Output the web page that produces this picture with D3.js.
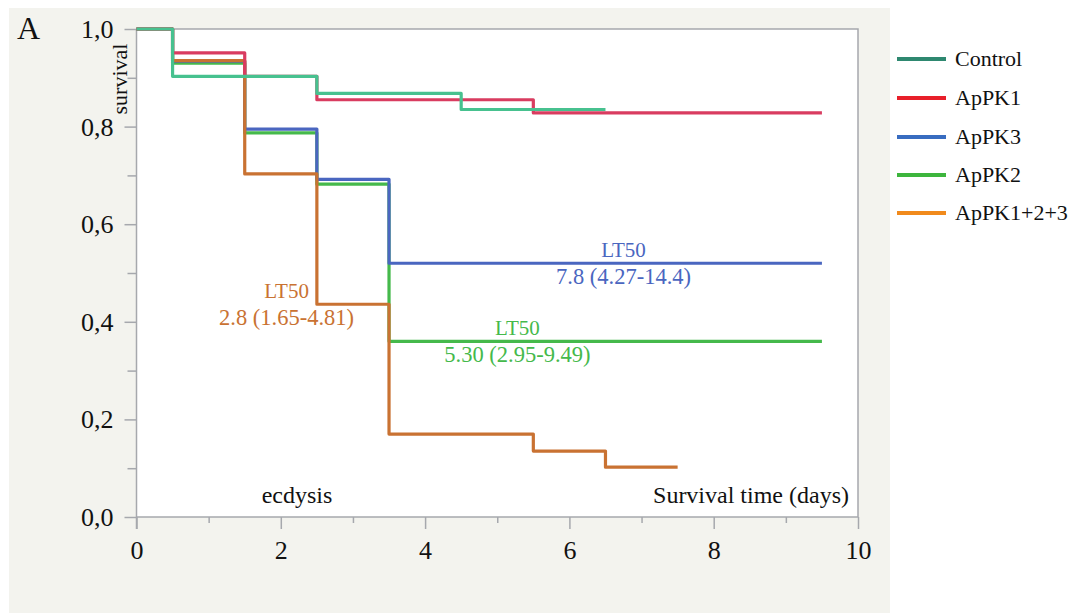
<!DOCTYPE html>
<html><head><meta charset="utf-8">
<script src="https://cdn.jsdelivr.net/npm/d3@7"></script>
<style>body{margin:0;background:#fff}svg{display:block}text{font-family:"Liberation Serif","Times New Roman",serif}</style>
</head><body><svg id="c" width="1077" height="613"></svg>
<script>
const seriesNames = ["Control","ApPK1","ApPK3","ApPK2","ApPK1+2+3"];
const lineColors = {"Control":"#47c18f","ApPK1":"#d93c60","ApPK3":"#4a66c0","ApPK2":"#45b94b","ApPK1+2+3":"#c97232"};
const legendColors = {"Control":"#2e8870","ApPK1":"#e81f2a","ApPK3":"#386cc0","ApPK2":"#3db53d","ApPK1+2+3":"#f18a1c"};
const timesControl = [0,0.5,2.5,4.5,6.5];
const survControl  = [1,0.903,0.868,0.835,0.835];
const timesPK1 = [0,0.5,1.5,2.5,5.5,9.5];
const survPK1  = [1,0.951,0.903,0.855,0.828,0.828];
const timesPK3 = [0,0.5,1.5,2.5,3.5,9.5];
const survPK3  = [1,0.934,0.795,0.692,0.520,0.520];
const timesPK2 = [0,0.5,1.5,2.5,3.5,9.5];
const survPK2  = [1,0.930,0.787,0.682,0.360,0.360];
const timesPK123 = [0,0.5,1.5,2.5,3.5,5.5,6.5,7.5];
const survPK123  = [1,0.935,0.703,0.436,0.170,0.135,0.102,0.102];
const xTicks = [0,2,4,6,8,10];
const yTicks = [0,0.2,0.4,0.6,0.8,1.0];
const lt50Labels = [
  {name:"ApPK3", t:6.75, s:0.52, l1:"LT50", l2:"7.8 (4.27-14.4)"},
  {name:"ApPK2", t:5.28, s:0.36, l1:"LT50", l2:"5.30 (2.95-9.49)"},
  {name:"ApPK1+2+3", t:2.08, s:0.436, l1:"LT50", l2:"2.8 (1.65-4.81)"}
];

const data = {
  "Control": d3.zip(timesControl, survControl),
  "ApPK1": d3.zip(timesPK1, survPK1),
  "ApPK3": d3.zip(timesPK3, survPK3),
  "ApPK2": d3.zip(timesPK2, survPK2),
  "ApPK1+2+3": d3.zip(timesPK123, survPK123)
};
const drawOrder = ["ApPK2","ApPK3","ApPK1+2+3","ApPK1","Control"];

const svg = d3.select("#c");
const L=136.5, R=858, T=29, B=517;
const x = d3.scaleLinear().domain([0,10]).range([L,R]);
const y = d3.scaleLinear().domain([0,1]).range([B,T]);
const grey="#a6a8ad";

svg.append("rect").attr("x",9).attr("y",8).attr("width",881).attr("height",605).attr("fill","#f3f3ee");
svg.append("rect").attr("x",L).attr("y",T).attr("width",R-L).attr("height",B-T).attr("fill","#fff");
svg.append("path").attr("d",`M${L},${T}H${R}V${B}`).attr("fill","none").attr("stroke",grey).attr("stroke-width",1.5);

const xAxis = d3.axisBottom(x).tickValues(xTicks).tickSize(12).tickFormat(d3.format("d"));
const gx = svg.append("g").attr("transform",`translate(0,${B})`).call(xAxis);
gx.selectAll("line").attr("stroke",grey).attr("stroke-width",1.5);
gx.select(".domain").attr("stroke",grey).attr("stroke-width",1.5).attr("d",`M${L},0H${R}`);
gx.selectAll("text").attr("font-size",26).attr("fill","#111").attr("dy",0).attr("y",42);
const gxm = svg.append("g").attr("transform",`translate(0,${B})`).call(d3.axisBottom(x).tickValues([1,3,5,7,9]).tickSize(6).tickFormat(""));
gxm.selectAll("line").attr("stroke",grey).attr("stroke-width",1.5);
gxm.select(".domain").remove();

const yAxis = d3.axisLeft(y).tickValues(yTicks).tickSize(12).tickFormat(d=>d3.format(".1f")(d).replace(".",","));
const gy = svg.append("g").attr("transform",`translate(${L},0)`).call(yAxis);
gy.selectAll("line").attr("stroke",grey).attr("stroke-width",1.5);
gy.select(".domain").attr("stroke",grey).attr("stroke-width",1.5).attr("d",`M0,${T}V${B+12}`);
gy.selectAll("text").attr("font-size",26).attr("fill","#111").attr("x",-23).attr("dy","0.33em");
const gym = svg.append("g").attr("transform",`translate(${L},0)`).call(d3.axisLeft(y).tickValues([0.1,0.3,0.5,0.7,0.9]).tickSize(9).tickFormat(""));
gym.selectAll("line").attr("stroke",grey).attr("stroke-width",1.5);
gym.select(".domain").remove();

const line = d3.line().x(d=>x(d[0])).y(d=>y(d[1])).curve(d3.curveStepAfter);
drawOrder.forEach(n=>{
  svg.append("path").attr("d",line(data[n])).attr("fill","none").attr("stroke",lineColors[n]).attr("stroke-width",3.2).attr("stroke-linejoin","round");
});

lt50Labels.forEach(o=>{
  const g = svg.append("g").attr("fill",lineColors[o.name]).attr("text-anchor","middle");
  g.append("text").attr("x",x(o.t)).attr("y",y(o.s)-6).attr("font-size",21).text(o.l1);
  g.append("text").attr("x",x(o.t)).attr("y",y(o.s)+21).attr("font-size",22.5).text(o.l2);
});

svg.append("text").attr("x",297).attr("y",503).attr("font-size",24).attr("text-anchor","middle").attr("fill","#111").text("ecdysis");
svg.append("text").attr("x",849).attr("y",503).attr("font-size",24).attr("text-anchor","end").attr("fill","#111").text("Survival time (days)");
svg.append("text").attr("transform","translate(127,79) rotate(-90)").attr("font-size",22).attr("text-anchor","middle").attr("fill","#111").text("survival");
svg.append("text").attr("x",17).attr("y",39).attr("font-size",32).attr("fill","#111").text("A");

const legendY = [59,98,137,175,213];
seriesNames.forEach((n,i)=>{
  svg.append("line").attr("x1",897).attr("x2",946).attr("y1",legendY[i]).attr("y2",legendY[i]).attr("stroke",legendColors[n]).attr("stroke-width",3.8);
  svg.append("text").attr("x",955).attr("y",legendY[i]+6.5).attr("font-size",22).attr("fill","#111").text(n);
});
</script></body></html>
